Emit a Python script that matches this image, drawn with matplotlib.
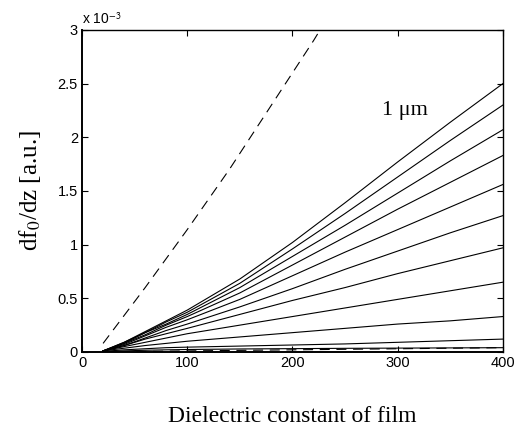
import matplotlib
matplotlib.use("Agg")
import matplotlib.pyplot as plt

plt.rcParams["mathtext.fontset"] = "stix"

# dielectric constant of film (x) -- every curve is sampled at these values
eps = [20, 40, 60, 80, 100, 150, 200, 250, 300, 350, 400]

# df0/dz in units of 1e-3, one curve per film thickness (top one is 1 um)
curves = [
    [0.01, 0.09, 0.19, 0.29, 0.39, 0.68, 1.02, 1.39, 1.77, 2.14, 2.50],
    [0.01, 0.09, 0.18, 0.28, 0.37, 0.64, 0.96, 1.29, 1.63, 1.97, 2.30],
    [0.01, 0.08, 0.18, 0.26, 0.35, 0.60, 0.89, 1.18, 1.48, 1.78, 2.07],
    [0.01, 0.08, 0.16, 0.25, 0.33, 0.55, 0.81, 1.07, 1.33, 1.58, 1.83],
    [0.01, 0.07, 0.15, 0.23, 0.30, 0.49, 0.71, 0.93, 1.14, 1.35, 1.56],
    [0.01, 0.06, 0.13, 0.20, 0.26, 0.42, 0.59, 0.77, 0.94, 1.11, 1.27],
    [0.01, 0.06, 0.12, 0.17, 0.22, 0.35, 0.48, 0.60, 0.73, 0.85, 0.97],
    [0.01, 0.05, 0.09, 0.13, 0.17, 0.25, 0.33, 0.41, 0.49, 0.57, 0.65],
    [0.01, 0.035, 0.06, 0.08, 0.10, 0.14, 0.18, 0.22, 0.26, 0.29, 0.33],
    [0.005, 0.02, 0.03, 0.04, 0.045, 0.055, 0.065, 0.075, 0.09, 0.105, 0.12],
    [0.003, 0.01, 0.016, 0.02, 0.023, 0.028, 0.031, 0.034, 0.036, 0.038, 0.04],
]

# dashed reference curves
upper_x = [20, 60, 100, 140, 180, 220, 240]
upper_y = [0.08, 0.60, 1.14, 1.70, 2.30, 2.90, 3.22]
lower_x = [20, 100, 200, 300, 400]
lower_y = [0.0, 0.01, 0.02, 0.03, 0.04]

fig = plt.figure(figsize=(5.26, 4.34), dpi=100)
ax = fig.add_axes([0.156, 0.189, 0.800, 0.742])

for c in curves:
    ax.plot(eps, c, color="black", lw=0.8)

ax.plot(upper_x, upper_y, color="black", lw=0.8, dashes=(9, 6))
ax.plot(lower_x, lower_y, color="black", lw=0.8, dashes=(9, 6))

ax.set_xlim(0, 400)
ax.set_ylim(0, 3)
ax.set_xticks([0, 100, 200, 300, 400])
ax.set_yticks([0, 0.5, 1, 1.5, 2, 2.5, 3])
ax.set_yticklabels(["0", "0.5", "1", "1.5", "2", "2.5", "3"])
ax.tick_params(direction="in", length=4, width=0.8, top=True, right=True,
               labelsize=10.5, pad=3)
for lab in ax.get_xticklabels() + ax.get_yticklabels():
    lab.set_family("Liberation Sans")
for s in ax.spines.values():
    s.set_linewidth(1.0)
ax.spines["left"].set_linewidth(1.4)
ax.spines["bottom"].set_linewidth(1.4)

# scale factor shown above the y axis
ax.text(0.0, 1.01, r"x 10$^{\mathsf{-3}}$", transform=ax.transAxes, ha="left",
        va="bottom", fontsize=10, family="Liberation Sans")

ax.text(307, 2.25, "1 \u03bcm", fontsize=16, family="Liberation Serif",
        ha="center", va="center")

ax.set_xlabel("Dielectric constant of film", fontsize=17, family="Liberation Serif")
ax.xaxis.set_label_coords(0.5, -0.2)
ax.xaxis.label.set_va("center")
ax.set_ylabel(r"df$_0$/dz [a.u.]", fontsize=18, family="Liberation Serif")
ax.yaxis.set_label_coords(-0.124, 0.5)
ax.yaxis.label.set_va("center")

fig.savefig("out.png", dpi=100)
